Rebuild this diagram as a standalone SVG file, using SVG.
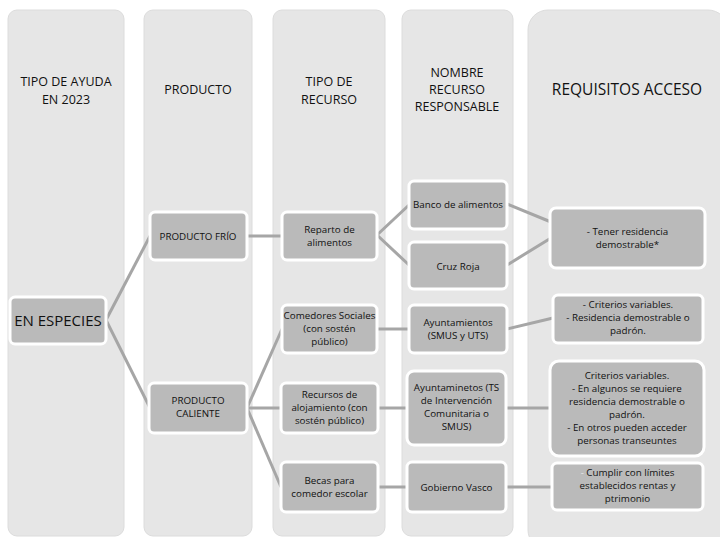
<svg xmlns="http://www.w3.org/2000/svg" width="720" height="537" viewBox="0 0 720 537">
<style>
.col{fill:#e6e6e6;stroke:#dcdcdc;stroke-width:1}
.n{fill:#bababa;stroke:#ffffff;stroke-width:3}
text{font-family:"Open Sans","Liberation Sans",sans-serif;fill:#111;text-anchor:middle}
.h{font-size:12.5px}
.t{font-size:9.8px}
.c{fill:none;stroke:#a6a6a6;stroke-width:3}
</style>
<rect width="720" height="537" fill="#ffffff"/>
<g id="columns">
<rect class="col" x="8" y="10" width="116" height="526" rx="9"/>
<rect class="col" x="144" y="10" width="108" height="526" rx="9"/>
<rect class="col" x="273" y="10" width="112" height="526" rx="9"/>
<rect class="col" x="402" y="10" width="111" height="526" rx="9"/>
<rect class="col" x="528" y="10" width="200" height="540" rx="20"/>
</g>
<g id="headers">
<text class="h" x="66" y="86">TIPO DE AYUDA</text>
<text class="h" x="66" y="104">EN 2023</text>
<text class="h" x="198" y="94">PRODUCTO</text>
<text class="h" x="329" y="86">TIPO DE</text>
<text class="h" x="329" y="104">RECURSO</text>
<text class="h" x="457" y="77">NOMBRE</text>
<text class="h" x="457" y="94">RECURSO</text>
<text class="h" x="457" y="111">RESPONSABLE</text>
<text x="627" y="95" style="font-size:15.5px">REQUISITOS ACCESO</text>
</g>
<g id="connectors">
<line class="c" x1="106" y1="320" x2="150" y2="236"/>
<line class="c" x1="106" y1="320" x2="150" y2="408"/>
<line class="c" x1="247" y1="236" x2="282" y2="236"/>
<line class="c" x1="377" y1="235" x2="409" y2="205"/>
<line class="c" x1="377" y1="235" x2="409" y2="265"/>
<line class="c" x1="507" y1="204" x2="551" y2="222"/>
<line class="c" x1="507" y1="265" x2="551" y2="238"/>
<line class="c" x1="247" y1="408" x2="282" y2="329"/>
<line class="c" x1="247" y1="408" x2="281" y2="408"/>
<line class="c" x1="247" y1="408" x2="281" y2="487"/>
<line class="c" x1="377" y1="329" x2="409" y2="329"/>
<line class="c" x1="507" y1="329" x2="553" y2="318"/>
<line class="c" x1="378" y1="408" x2="407" y2="408"/>
<line class="c" x1="506" y1="408" x2="550" y2="408"/>
<line class="c" x1="378" y1="487" x2="407" y2="487"/>
<line class="c" x1="506" y1="487" x2="552" y2="487"/>
</g>
<g id="en-especies">
<rect class="n" x="10" y="297" width="96" height="47" rx="5"/>
<text x="58" y="326" style="font-size:15px">EN ESPECIES</text>
</g>
<g id="producto-frio">
<rect class="n" x="150" y="212" width="97" height="48" rx="5"/>
<text class="t" x="198" y="240">PRODUCTO FRÍO</text>
</g>
<g id="producto-caliente">
<rect class="n" x="149" y="383" width="98" height="50" rx="5"/>
<text class="t" x="198" y="404">PRODUCTO</text>
<text class="t" x="198" y="417">CALIENTE</text>
</g>
<g id="reparto">
<rect class="n" x="282" y="212" width="95" height="48" rx="5"/>
<text class="t" x="329.5" y="233">Reparto de</text>
<text class="t" x="329.5" y="246">alimentos</text>
</g>
<g id="comedores">
<rect class="n" x="282" y="305" width="95" height="48" rx="5"/>
<text class="t" x="329.5" y="319">Comedores Sociales</text>
<text class="t" x="329.5" y="332">(con sostén</text>
<text class="t" x="329.5" y="345">público)</text>
</g>
<g id="recursos-alojamiento">
<rect class="n" x="281" y="383" width="97" height="50" rx="5"/>
<text class="t" x="329.5" y="398">Recursos de</text>
<text class="t" x="329.5" y="411">alojamiento (con</text>
<text class="t" x="329.5" y="424">sostén público)</text>
</g>
<g id="becas">
<rect class="n" x="281" y="462" width="97" height="50" rx="5"/>
<text class="t" x="329.5" y="484">Becas para</text>
<text class="t" x="329.5" y="497">comedor escolar</text>
</g>
<g id="banco">
<rect class="n" x="409" y="181" width="98" height="48" rx="5"/>
<text class="t" x="458" y="208">Banco de alimentos</text>
</g>
<g id="cruz-roja">
<rect class="n" x="409" y="242" width="98" height="47" rx="5"/>
<text class="t" x="458" y="270">Cruz Roja</text>
</g>
<g id="ayuntamientos">
<rect class="n" x="409" y="305" width="98" height="48" rx="5"/>
<text class="t" x="458" y="326">Ayuntamientos</text>
<text class="t" x="458" y="339">(SMUS y UTS)</text>
</g>
<g id="ayuntaminetos">
<rect class="n" x="407" y="371" width="99" height="74" rx="7"/>
<text class="t" x="456.5" y="391">Ayuntaminetos (TS</text>
<text class="t" x="456.5" y="404">de Intervención</text>
<text class="t" x="456.5" y="417">Comunitaria o</text>
<text class="t" x="456.5" y="430">SMUS)</text>
</g>
<g id="gobierno-vasco">
<rect class="n" x="407" y="462" width="99" height="50" rx="5"/>
<text class="t" x="456.5" y="491">Gobierno Vasco</text>
</g>
<g id="req-residencia">
<rect class="n" x="550" y="208" width="155" height="60" rx="6"/>
<text class="t" x="627.5" y="235">- Tener residencia</text>
<text class="t" x="627.5" y="248">demostrable*</text>
</g>
<g id="req-criterios">
<rect class="n" x="553" y="295" width="150" height="48" rx="5"/>
<text class="t" x="628" y="308">- Criterios variables.</text>
<text class="t" x="628" y="321">- Residencia demostrable o</text>
<text class="t" x="628" y="334">padrón.</text>
</g>
<g id="req-criterios-2">
<rect class="n" x="550" y="361" width="154" height="95" rx="9"/>
<text class="t" x="627" y="379">Criterios variables.</text>
<text class="t" x="627" y="392">- En algunos se requiere</text>
<text class="t" x="627" y="405">residencia demostrable o</text>
<text class="t" x="627" y="418">padrón.</text>
<text class="t" x="627" y="431">- En otros pueden acceder</text>
<text class="t" x="627" y="444">personas transeuntes</text>
</g>
<g id="req-cumplir">
<rect class="n" x="552" y="463" width="151" height="47" rx="5"/>
<text class="t" x="627.5" y="476"><tspan fill="#e8e8e8">-</tspan> Cumplir con límites</text>
<text class="t" x="627.5" y="489">establecidos rentas y</text>
<text class="t" x="627.5" y="502">ptrimonio</text>
</g>
</svg>
